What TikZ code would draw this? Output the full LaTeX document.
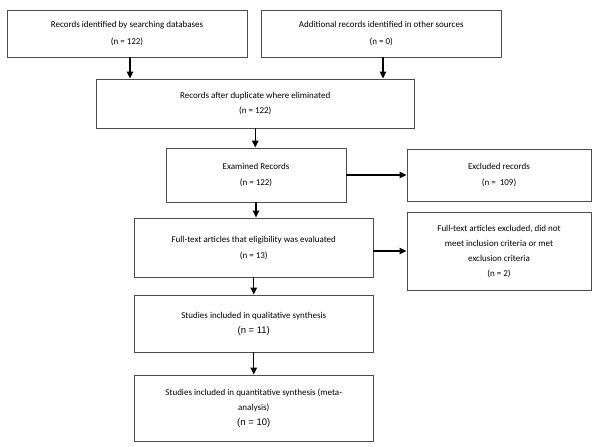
\documentclass[tikz,border=0pt]{standalone}
\usepackage{fontspec}
\setmainfont{Carlito}
\newfontfamily\arialf{Liberation Sans}
\usetikzlibrary{arrows.meta}
\tikzset{
  box/.style={draw=black!70, line width=0.9pt, fill=white, align=center, inner sep=2pt,
    font=\fontsize{9}{17}\selectfont},
  arr/.style={draw=black, line width=1.1pt, -{Triangle[width=6.5pt,length=7pt]}}
}
\begin{document}
\begin{tikzpicture}[x=1pt,y=-1pt]
\useasboundingbox[fill=white] (0,0) rectangle (600,447);
\node[box, minimum width=240pt, minimum height=47pt] (b1) at (127,33.5)
  {Records identified by searching databases\\(n = 122)};
\node[box, minimum width=239.5pt, minimum height=47pt] (b2) at (381.25,33.5)
  {Additional records identified in other sources\\(n = 0)};
\node[box, minimum width=318.5pt, minimum height=49pt, font=\fontsize{9}{15}\selectfont] (b3) at (255.25,103.5)
  {Records after duplicate where eliminated\\(n = 122)};
\node[box, minimum width=180pt, minimum height=54pt, font=\fontsize{9}{16}\selectfont] (ex) at (256,175)
  {Examined Records\\(n = 122)};
\node[box, minimum width=184pt, minimum height=52pt, font=\fontsize{9}{16}\selectfont] (exc) at (499,175)
  {Excluded records\\(n = \ 109)};
\node[box, minimum width=238.5pt, minimum height=59pt, font=\fontsize{9}{16}\selectfont] (ft) at (253.75,247.5)
  {Full-text articles that eligibility was evaluated\\(n = 13)};
\node[box, minimum width=184pt, minimum height=78pt, font=\fontsize{9}{15}\selectfont] (fte) at (499,251)
  {Full-text articles excluded, did not\\meet inclusion criteria or met\\exclusion criteria\\(n = 2)};
\node[box, minimum width=238.5pt, minimum height=57pt, font=\fontsize{9}{15}\selectfont] (qual) at (253.75,323.5)
  {Studies included in qualitative synthesis\\{\arialf\fontsize{9.5}{15}\selectfont (n = 11)}};
\node[box, minimum width=238.5pt, minimum height=66pt, font=\fontsize{9}{15}\selectfont] (quan) at (253.75,408)
  {Studies included in quantitative synthesis (meta-\\analysis)\\{\arialf\fontsize{9.5}{15}\selectfont (n = 10)}};
\draw[arr] ([xshift=3pt]b1.south) -- ([xshift=3pt]b1.south |- b3.north);
\draw[arr] ([xshift=1.75pt]b2.south) -- ([xshift=1.75pt]b2.south |- b3.north);
\draw[arr] (b3.south) -- (b3.south |- ex.north);
\draw[arr] (ex.east) -- (exc.west);
\draw[arr] (ex.south) -- (ex.south |- ft.north);
\draw[arr] (fte.west -| ft.east) -- (fte.west);
\draw[arr] (ft.south) -- (ft.south |- qual.north);
\draw[arr] (qual.south) -- (qual.south |- quan.north);
\end{tikzpicture}
\end{document}
